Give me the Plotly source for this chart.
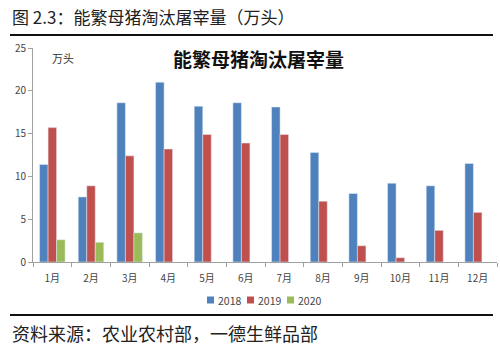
import plotly.graph_objects as go

months = ["1月", "2月", "3月", "4月", "5月", "6月", "7月", "8月", "9月", "10月", "11月", "12月"]
v2018 = [11.4, 7.6, 18.6, 21.0, 18.2, 18.6, 18.1, 12.8, 8.0, 9.2, 8.9, 11.5]
v2019 = [15.7, 8.9, 12.4, 13.2, 14.9, 13.9, 14.9, 7.1, 1.9, 0.5, 3.7, 5.8]
v2020 = [2.6, 2.3, 3.4, None, None, None, None, None, None, None, None, None]
series_names = ["2018", "2019", "2020"]
series_colors = ["#4F81BD", "#C0504D", "#9BBB59"]
yticks = [0, 5, 10, 15, 20, 25]

CJK = "Noto Sans CJK SC"
PW, PH = 464, 214
def px(x):
    return (x - 33) / PW
def py(y):
    return (262 - y) / PH

fig = go.Figure()
for name, vals, col in zip(series_names, [v2018, v2019, v2020], series_colors):
    fig.add_bar(x=months, y=vals, name=name, marker_color=col, showlegend=False)

# compact legend (Excel style): small square + label
shapes = []
annotations = []
for i, (name, col) in enumerate(zip(series_names, series_colors)):
    x0 = 207 + 40 * i
    shapes.append(dict(type="rect", xref="paper", yref="paper",
                       x0=px(x0), x1=px(x0 + 7), y0=py(296.5), y1=py(303.5),
                       fillcolor=col, line=dict(width=0)))
    annotations.append(dict(text=name, xref="paper", yref="paper",
                            x=px(x0 + 8.5), y=py(300), xanchor="left", yanchor="middle",
                            showarrow=False, font=dict(family=CJK, size=10.5, color="#444444")))

annotations += [
    dict(text="图 2.3：能繁母猪淘汰屠宰量（万头）", xref="paper", yref="paper",
         x=px(10), y=py(16), xanchor="left", yanchor="middle",
         showarrow=False, font=dict(family=CJK, size=17, color="#222222")),
    dict(text="<b>能繁母猪淘汰屠宰量</b>", xref="paper", yref="paper",
         x=px(258), y=py(58), xanchor="center", yanchor="middle",
         showarrow=False, font=dict(family=CJK, size=19, color="#111111")),
    dict(text="万头", xref="paper", yref="paper",
         x=px(63), y=py(58), xanchor="center", yanchor="middle",
         showarrow=False, font=dict(family=CJK, size=11, color="#333333")),
    dict(text="资料来源：农业农村部，一德生鲜品部", xref="paper", yref="paper",
         x=px(10), y=py(333), xanchor="left", yanchor="middle",
         showarrow=False, font=dict(family=CJK, size=18, color="#222222")),
]
shapes += [
    dict(type="line", xref="paper", yref="paper", x0=px(10), x1=px(493),
         y0=py(35), y1=py(35), line=dict(color="#111111", width=2)),
    dict(type="line", xref="paper", yref="paper", x0=px(10), x1=px(493),
         y0=py(315), y1=py(315), line=dict(color="#111111", width=2)),
]

fig.update_layout(
    width=500, height=357,
    margin=dict(l=33, r=3, t=48, b=95),
    paper_bgcolor="white", plot_bgcolor="white",
    barmode="group", bargap=0.34, bargroupgap=0,
    font=dict(family=CJK, size=10, color="#444444"),
    showlegend=False,
    xaxis=dict(showline=True, linecolor="#A0A0A0", linewidth=1, ticks="outside",
               tickson="boundaries", ticklen=4, tickcolor="#A0A0A0",
               ticklabelstandoff=7,
               tickfont=dict(size=10, color="#444444"), fixedrange=True),
    yaxis=dict(range=[0, 25], tickvals=yticks, showline=True, linecolor="#A0A0A0",
               linewidth=1, ticks="outside", ticklen=4, tickcolor="#A0A0A0",
               showgrid=False, zeroline=False, tickfont=dict(size=10, color="#444444")),
    annotations=annotations,
    shapes=shapes,
)
fig.write_html("out.html", config={"displayModeBar": False},
               post_script="document.body.style.margin='0';document.body.style.overflow='hidden';")
